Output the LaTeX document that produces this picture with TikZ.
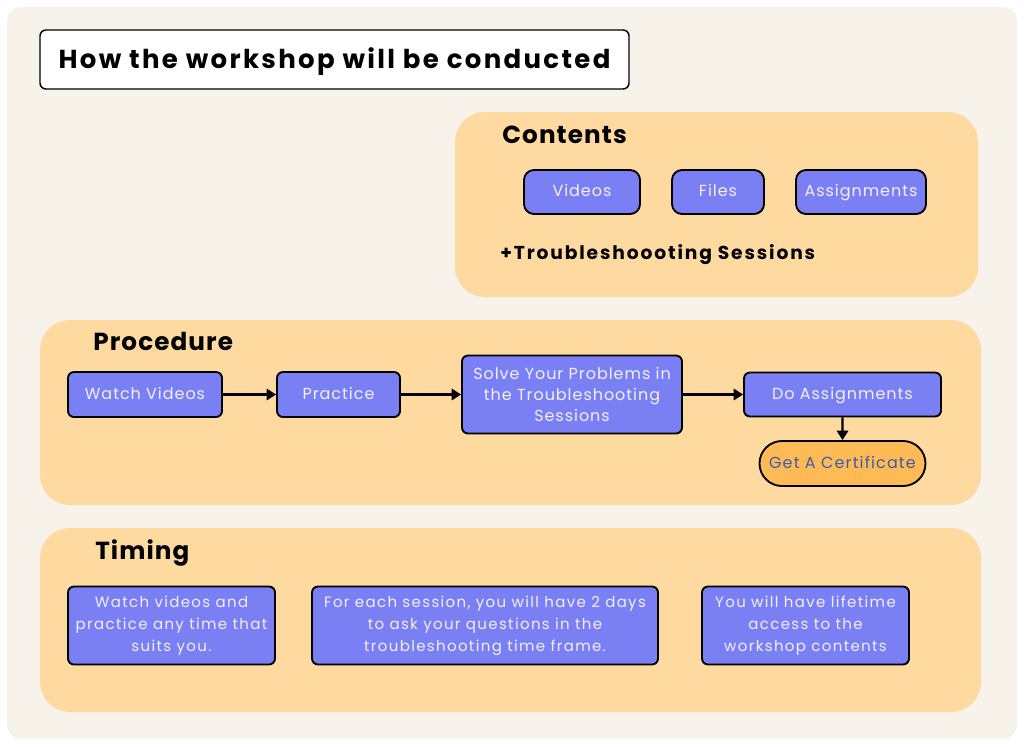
\documentclass[tikz,border=0pt]{standalone}
\usepackage{fontspec}
\setmainfont{Poppins}
\usetikzlibrary{arrows.meta,shapes.misc}
\definecolor{bgcream}{HTML}{F7F2EA}
\definecolor{panel}{HTML}{FED9A0}
\definecolor{boxblue}{HTML}{7A80F4}
\definecolor{boxtext}{HTML}{F0F0FF}
\definecolor{certfill}{HTML}{FDBA55}
\definecolor{certtext}{HTML}{3D5CAE}
\tikzset{
  x=0.75pt, y=-0.75pt,
  wh/.style 2 args={minimum width={0.75pt*#1}, minimum height={0.75pt*#2}},
  secttitle/.style={anchor=base west, inner sep=0pt, font=\fontsize{18.5}{22}\selectfont\bfseries\addfontfeatures{LetterSpace=4.5}},
  bluebox/.style={draw=black, line width=1.4pt, fill=boxblue, rounded corners=4.5pt,
    text=boxtext, align=center, inner sep=0pt,
    font=\fontsize{12}{16}\selectfont\addfontfeatures{LetterSpace=6}},
  oneline/.style={text height=8.4pt, text depth=1.5pt},
  pillbox/.style={bluebox, oneline, rounded corners=7.5pt},
  timebox/.style={bluebox, font=\fontsize{11.25}{16.5}\selectfont\addfontfeatures{LetterSpace=9}},
  certbox/.style={draw=black, line width=1.4pt, fill=certfill, rounded rectangle, oneline,
    text=certtext, inner sep=0pt, font=\fontsize{12}{16}\selectfont\addfontfeatures{LetterSpace=7}},
  flow/.style={-{Triangle[length=7pt,width=8.5pt]}, line width=1.6pt, draw=black},
}
\begin{document}
\begin{tikzpicture}
\fill[white] (0,0) rectangle (1024,746);
\useasboundingbox (0,0) rectangle (1024,746);
\fill[bgcream, rounded corners=11pt] (7,7) rectangle (1017,739);

% title
\node[draw=black, line width=1.1pt, fill=white, rounded corners=4.5pt, wh={589}{59},
  text height=13.6pt, text depth=0pt,
  font=\fontsize{19.5}{23}\selectfont\bfseries\addfontfeatures{LetterSpace=9}] (title) at (334.5,59.5)
  {How the workshop will be conducted};

% Contents panel
\fill[panel, rounded corners=22.5pt] (455,112) rectangle (978,297);
\node[secttitle] (ctitle) at (502,143) {Contents};
\node[pillbox, wh={116}{44}] (cvid) at (582,192) {Videos};
\node[pillbox, wh={92}{44}] (cfiles) at (718,192) {Files};
\node[pillbox, wh={130}{44}] (cassign) at (861,192) {Assignments};
\node[anchor=base west, inner sep=0pt, font=\fontsize{14}{18}\selectfont\bfseries\addfontfeatures{LetterSpace=10}] (trouble) at (500,259) {+Troubleshoooting Sessions};

% Procedure panel
\fill[panel, rounded corners=22.5pt] (40,320) rectangle (981,505);
\node[secttitle] (ptitle) at (93,350) {Procedure};
\node[bluebox, oneline, wh={154}{45}] (watch) at (145,394.5) {Watch Videos};
\node[bluebox, oneline, wh={123}{45}] (practice) at (338.5,394.5) {Practice};
\node[bluebox, wh={220}{78}] (solve) at (572,394.5) {Solve Your Problems in\\the Troubleshooting\\Sessions};
\node[bluebox, oneline, wh={197}{44}] (doassign) at (842.5,394.5) {Do Assignments};
\node[certbox, wh={166}{45}] (cert) at (842.5,463.5) {Get A Certificate};
\draw[flow] (watch) -- (practice);
\draw[flow] (practice) -- (solve.west |- practice.east);
\draw[flow] (solve.east |- doassign.west) -- (doassign);
\draw[flow] (doassign) -- (cert);

% Timing panel
\fill[panel, rounded corners=22.5pt] (40,528) rectangle (981,712);
\node[secttitle] (ttitle) at (95,559) {Timing};
\node[timebox, wh={207}{78}] (t1) at (171.5,625.5) {Watch videos and\\practice any time that\\suits you.};
\node[timebox, wh={346}{78}] (t2) at (485,625.5) {For each session, you will have 2 days\\to ask your questions in the\\troubleshooting time frame.};
\node[timebox, wh={207}{78}] (t3) at (805.5,625.5) {You will have lifetime\\access to the\\workshop contents};
\end{tikzpicture}
\end{document}
